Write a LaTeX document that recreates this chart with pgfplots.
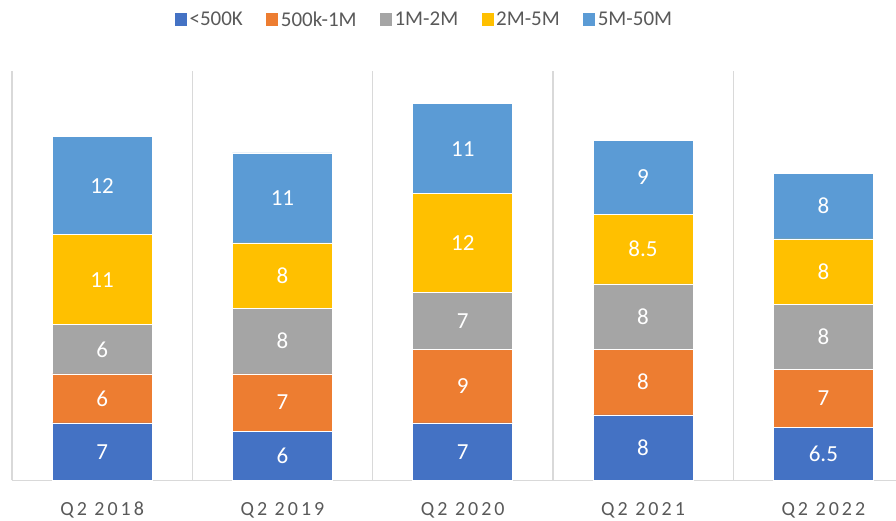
\documentclass[border=0pt]{standalone}
\usepackage{pgfplots}
\pgfplotsset{compat=1.18}
\usepackage{fontspec}
\setmainfont{Carlito}
\newfontfamily\tickfont[LetterSpace=15]{Carlito}
\definecolor{c1}{HTML}{4472C4}
\definecolor{c2}{HTML}{ED7D31}
\definecolor{c3}{HTML}{A5A5A5}
\definecolor{c4}{HTML}{FFC000}
\definecolor{c5}{HTML}{5B9BD5}
\definecolor{gridgray}{HTML}{D9D9D9}
\definecolor{textgray}{HTML}{595959}
\begin{document}
\begin{tikzpicture}
\useasboundingbox (0,0) rectangle (896pt,521pt);
\begin{axis}[
  at={(12pt,40.7pt)}, anchor=south west,
  scale only axis, width=884pt, height=409.3pt,
  xmin=-0.5, xmax=4.403, ymin=0, ymax=50,
  ybar stacked, bar width=100pt,
  axis y line=none, ytick=\empty,
  axis x line*=bottom,
  x axis line style={draw=gridgray, line width=1.3pt, -},
  xtick={0,1,2,3,4},
  xticklabels={Q2 2018,Q2 2019,Q2 2020,Q2 2021,Q2 2022},
  major tick length=0pt, minor tick length=0pt,
  minor xtick={-0.5,0.5,1.5,2.5,3.5},
  xminorgrids=true, xmajorgrids=false,
  minor grid style={draw=gridgray, line width=1.3pt},
  xticklabel style={font=\tickfont\fontsize{20}{24}\selectfont, text=textgray, anchor=base, yshift=-35.7pt},
  clip=false,
  visualization depends on=rawy \as \rawy,
  nodes near coords={\pgfmathprintnumber[assume math mode=true]{\rawy}},
  every node near coord/.append style={font=\fontsize{23}{27}\selectfont, text=white, anchor=center},
  legend style={at={(0.467,1.1253)}, anchor=center, draw=none, fill=none,
    legend columns=5, font=\fontsize{21}{25}\selectfont, text=textgray,
    nodes={inner sep=2.5pt},
    /tikz/every even column/.append style={column sep=21pt}},
  legend image code/.code={\draw[#1,draw=none] (0pt,-6.5pt) rectangle (12pt,6.5pt);},
]
\addplot[fill=c1, draw=white, line width=0.6pt] coordinates {(0,7) (1,6) (2,7) (3,8) (4,6.5)};
\addplot[fill=c2, draw=white, line width=0.6pt] coordinates {(0,6) (1,7) (2,9) (3,8) (4,7)};
\addplot[fill=c3, draw=white, line width=0.6pt] coordinates {(0,6) (1,8) (2,7) (3,8) (4,8)};
\addplot[fill=c4, draw=white, line width=0.6pt] coordinates {(0,11) (1,8) (2,12) (3,8.5) (4,8)};
\addplot[fill=c5, draw=white, line width=0.6pt] coordinates {(0,12) (1,11) (2,11) (3,9) (4,8)};
\legend{<500K,500k-1M,1M-2M,2M-5M,5M-50M}
\end{axis}
\end{tikzpicture}
\end{document}
